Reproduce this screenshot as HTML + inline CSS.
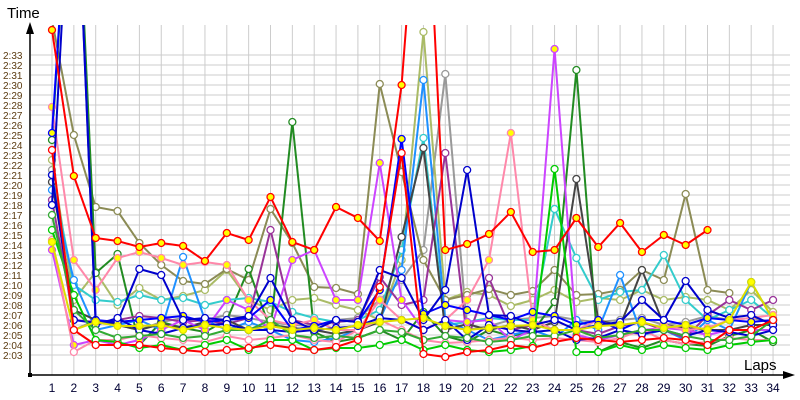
<!DOCTYPE html>
<html><head><meta charset="utf-8"><style>
body{margin:0;background:#fff;}
svg{display:block;font-family:"Liberation Sans",sans-serif;}
</style></head><body>
<svg id="s" width="800" height="400" viewBox="0 0 800 400" xmlns="http://www.w3.org/2000/svg">
<defs><clipPath id="c"><rect x="31" y="25" width="769" height="349"/></clipPath></defs>
<g id="grid"></g>
<g id="series" clip-path="url(#c)"></g>
<g id="axes"></g>
</svg>
<script>
var NS="http://www.w3.org/2000/svg";
function el(t,a,p){var e=document.createElementNS(NS,t);for(var k in a)e.setAttribute(k,a[k]);(p||document.getElementById('s')).appendChild(e);return e;}
function X(n){return 52+(n-1)*21.85;}
var G=document.getElementById('grid'),A=document.getElementById('axes'),S=document.getElementById('series');
for(var s=123;s<=153;s++){var y=55+(153-s)*10;el('line',{x1:31,x2:790,y1:y,y2:y,stroke:'#cccccc','stroke-width':1},G);
 var t=el('text',{x:3,y:y+4,'font-size':10,fill:'#5a3a10'},A);t.textContent='2:'+(s-120<10?'0':'')+(s-120);}
for(var n=1;n<=34;n++){el('line',{x1:X(n),x2:X(n),y1:25,y2:375,stroke:'#cccccc','stroke-width':1},G);
 var t=el('text',{x:X(n),y:392,'font-size':12,fill:'#000033','text-anchor':'middle'},A);t.textContent=n;}
el('line',{x1:30,y1:375,x2:30,y2:30,stroke:'#000','stroke-width':1.5},A);
el('path',{d:'M30,22 L26,34 L34,34 Z',fill:'#000'},A);
el('line',{x1:30,y1:375,x2:785,y2:375,stroke:'#000','stroke-width':1.5},A);
el('path',{d:'M795,375 L783,371 L783,379 Z',fill:'#000'},A);
el('rect',{x:28,y:373,width:4,height:4,fill:'#000'},A);
var t=el('text',{x:7,y:18,'font-size':15,fill:'#000'},A);t.textContent='Time';
t=el('text',{x:744,y:370,'font-size':15,fill:'#000'},A);t.textContent='Laps';
var data=[
['#999999','#fff',[170,330,320,325,330,322,318,320,315,318,322,325,326,320,318,300,280,250,74,330,326,320,318,316,320,322,320,318,325,322,316,320,318,322]],
['#aabb66','#fff',[160,300,272,305,288,300,296,290,270,300,310,300,298,305,310,320,260,32,300,292,295,306,300,290,302,298,300,290,300,297,300,310,290,312]],
['#8b8b55','#fff',[20,135,207,211,243,265,281,284,269,280,209,243,287,288,294,84,172,260,300,295,289,295,291,270,295,294,290,270,280,194,290,293,null,null]],
['#228b22','#fff',[140,-200,273,254,345,322,328,332,320,269,330,122,332,342,338,330,340,312,336,342,330,336,332,302,70,352,342,348,340,344,346,336,330,342]],
['#33cccc','#fff',[175,285,300,302,295,300,298,305,300,298,302,312,318,322,320,310,250,138,325,322,318,320,320,209,258,300,292,290,255,300,320,310,300,318]],
['#1e90ff','#fff',[190,280,330,325,320,330,257,320,330,322,330,340,342,338,330,320,270,80,320,330,340,335,330,338,320,330,275,335,330,340,320,330,282,320]],
['#993399','#fff',[200,320,322,320,316,318,322,320,324,318,230,320,325,322,320,277,305,300,153,340,278,330,325,320,330,334,326,322,330,338,315,300,310,300]],
['#444444','#fff',[182,310,320,325,330,324,328,322,320,330,325,328,330,334,330,322,237,148,330,324,330,325,330,322,179,320,326,270,325,328,330,330,325,325]],
['#cc44ff','#ffff00',[250,345,340,345,340,330,320,330,300,310,330,260,250,300,300,163,300,330,320,322,320,340,330,49,335,340,335,330,328,330,335,330,330,330]],
['#ff88aa','#ffff00',[107,260,290,258,252,258,265,262,265,300,320,325,320,330,330,300,320,330,320,300,260,133,320,330,330,320,330,335,325,330,328,320,318,315]],
['#ff88aa','#fff',[240,352,340,340,335,338,340,342,336,340,338,335,340,342,330,320,330,340,343,342,340,338,340,338,340,342,338,330,340,344,342,338,340,340]],
['#0000ff','#ffff00',[133,-200,320,322,320,318,316,322,320,318,300,330,326,320,322,290,139,314,305,310,315,320,312,316,325,320,330,320,320,325,318,320,322,320]],
['#0000cc','#fff',[175,320,323,322,269,275,320,318,320,316,278,320,330,320,322,270,278,320,290,170,315,316,325,320,330,325,322,300,320,281,310,318,315,325]],
['#0000cc','#fff',[205,-200,325,318,330,334,328,325,324,330,330,332,330,328,326,318,320,330,320,340,325,330,332,330,340,338,330,334,330,336,330,332,336,330]],
['#00cc00','#fff',[230,295,340,342,348,345,350,345,340,350,340,340,350,348,348,345,340,350,345,350,352,350,346,169,352,352,345,350,345,348,350,345,342,340]],
['#33aa33','#fff',[215,310,330,338,336,334,338,336,330,330,320,335,338,336,338,330,332,340,336,338,342,340,336,336,330,338,335,330,330,336,340,340,336,320]],
['#dddd00','#ffff00',[242,330,322,326,326,325,330,325,328,330,326,330,328,330,325,322,320,318,326,330,328,326,325,330,330,326,325,322,328,325,330,320,282,320]],
['#ff0000','#fff',[150,330,345,345,345,348,350,352,350,348,345,348,350,347,340,287,153,354,357,352,350,345,348,342,338,340,342,340,338,340,345,330,330,320]],
['#ff0000','#ffff00',[30,176,238,241,247,243,246,261,233,240,197,242,250,207,218,241,85,-200,250,244,234,212,252,250,218,247,223,252,235,245,230]]
];
data.forEach(function(d){
 var pts=[];d[2].forEach(function(v,i){if(v!==null&&v!==undefined)pts.push([X(i+1),v]);});
 el('polyline',{points:pts.map(function(p){return p.join(',')}).join(' '),fill:'none',stroke:d[0],'stroke-width':2},S);
 pts.forEach(function(p){if(p[1]>20)el('circle',{cx:p[0],cy:p[1],r:3.5,fill:d[1],stroke:d[0],'stroke-width':1.3},S);});
});
</script>
</body></html>
